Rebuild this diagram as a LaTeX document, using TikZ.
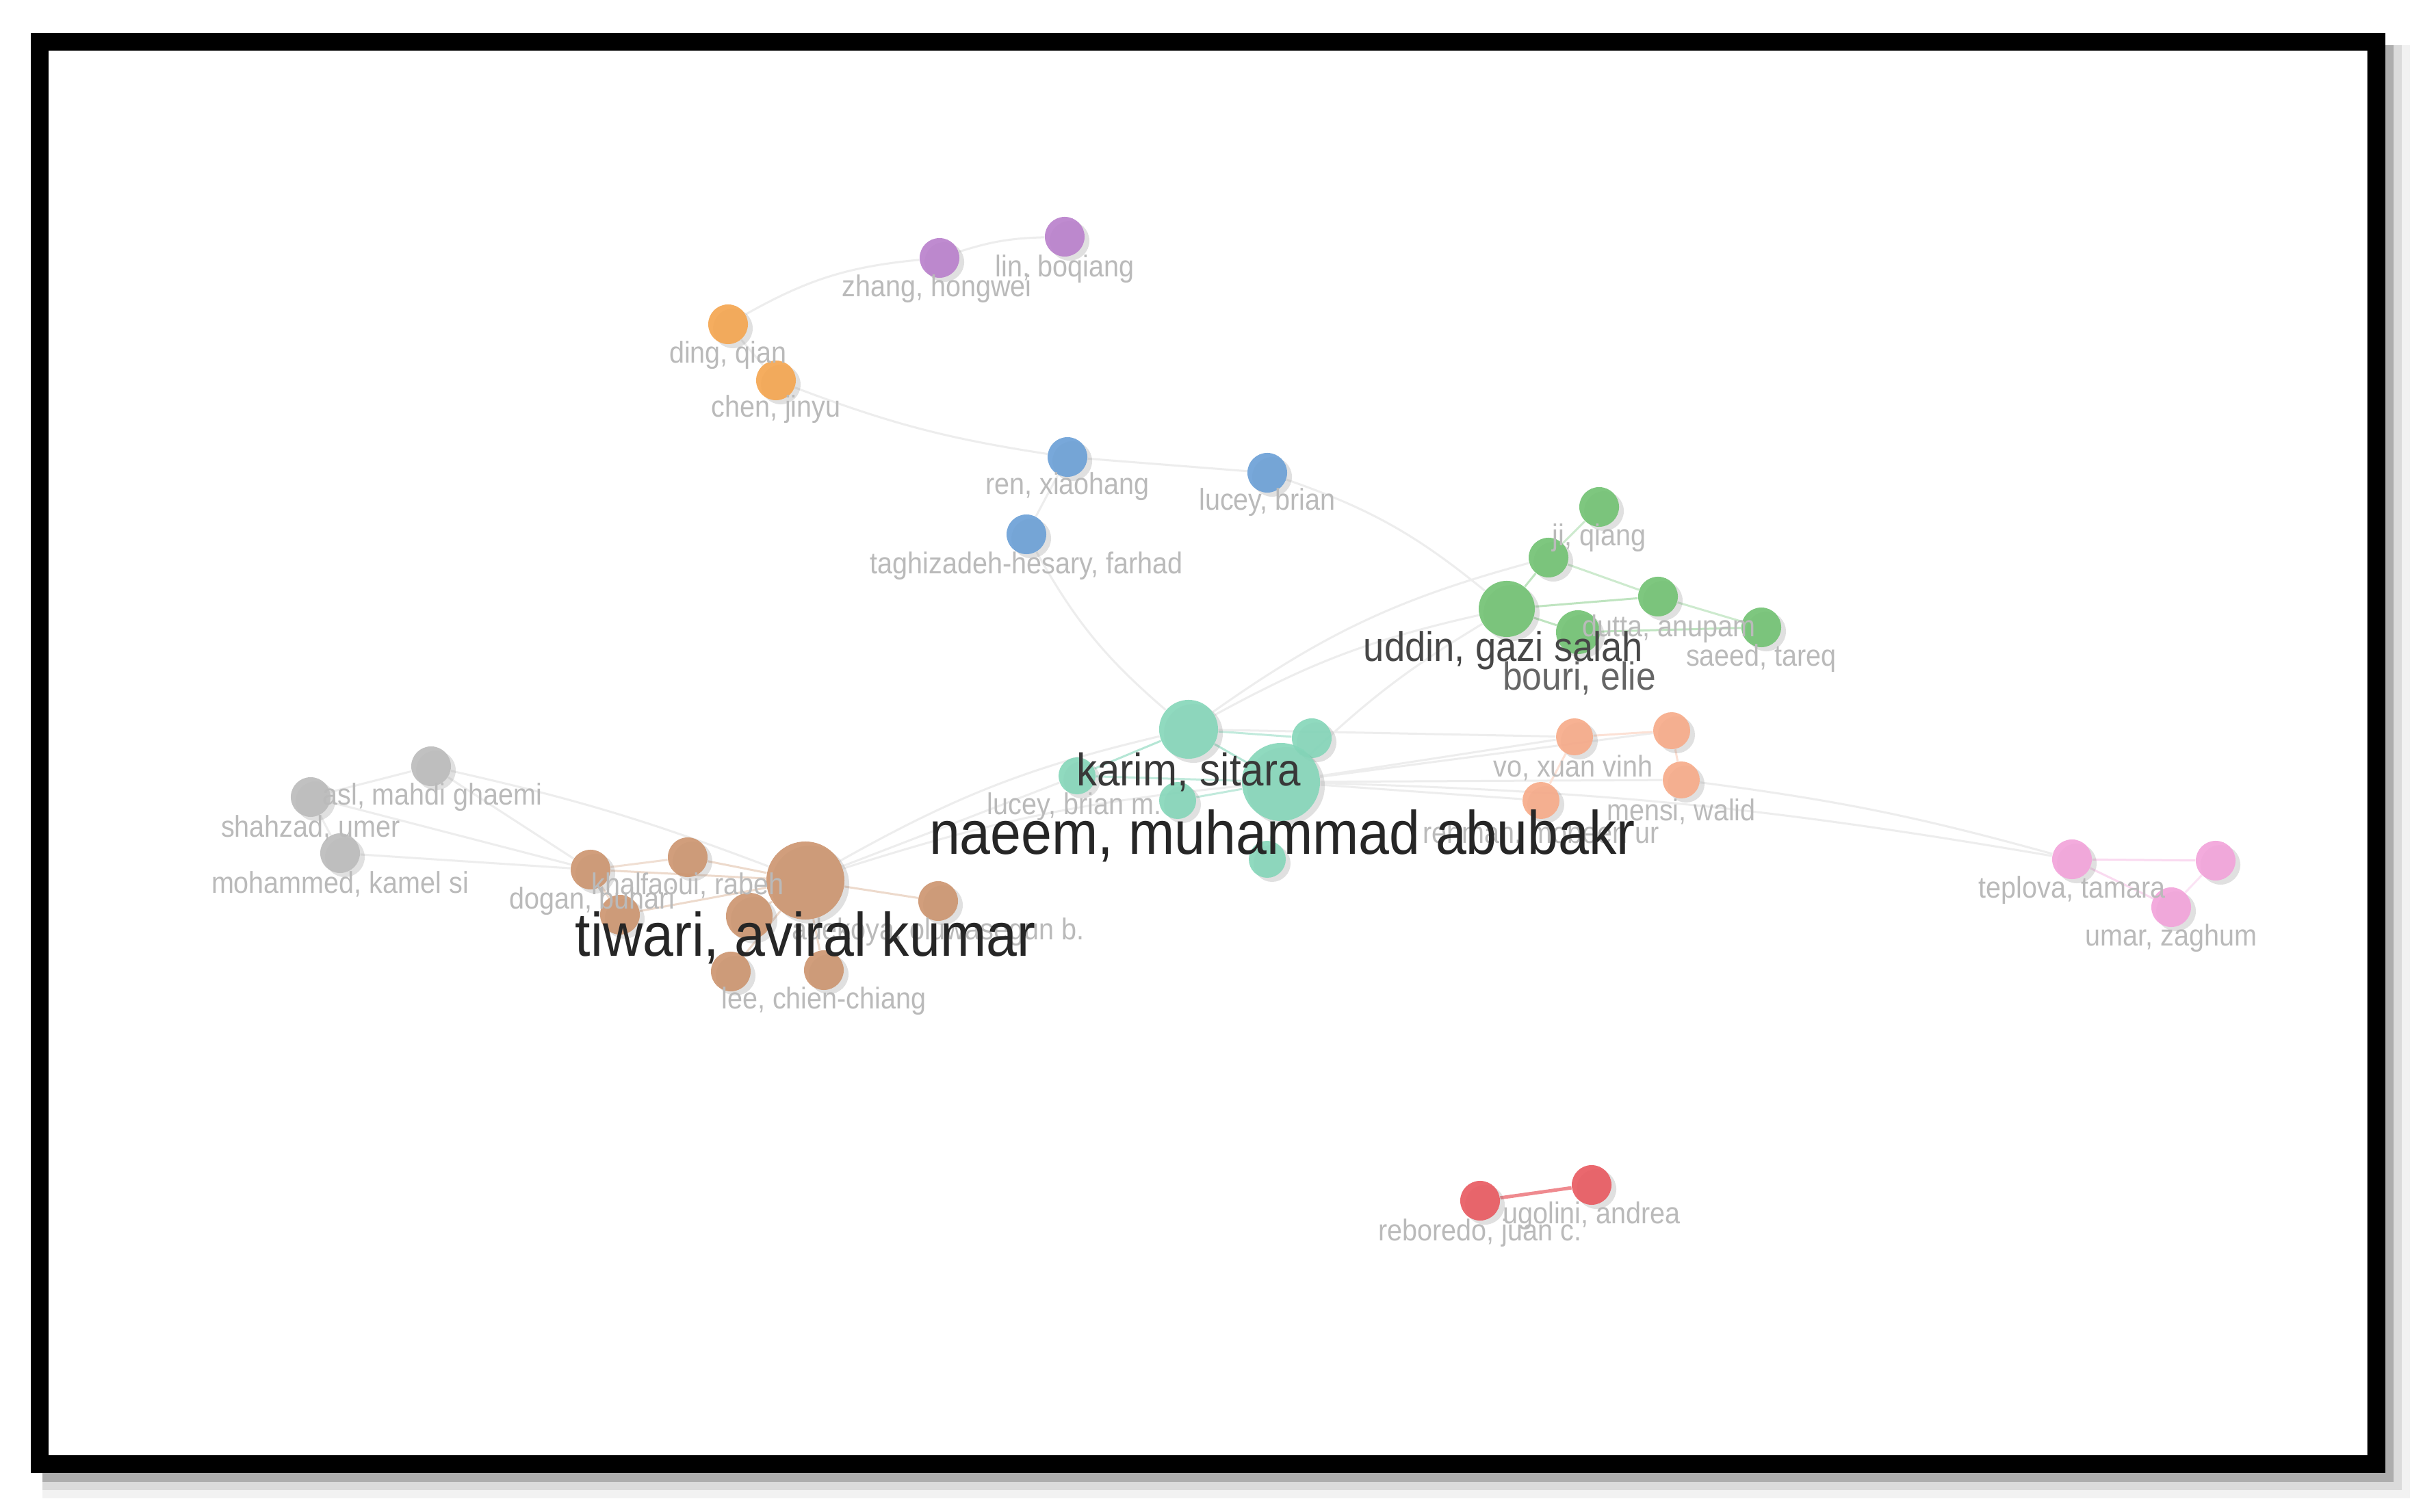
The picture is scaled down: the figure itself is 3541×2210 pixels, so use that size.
\documentclass[tikz,border=0pt]{standalone}
\usepackage{fontspec}
\setmainfont{Liberation Sans}
\newfontfamily\lab[FakeStretch=0.9]{Liberation Sans}
\usetikzlibrary{shadows}
\definecolor{cpurple}{HTML}{B97FCB}
\definecolor{corange}{HTML}{F5A54E}
\definecolor{cblue}{HTML}{6A9FD6}
\definecolor{cgreen}{HTML}{71C272}
\definecolor{cteal}{HTML}{84D6B9}
\definecolor{csalmon}{HTML}{F7AA88}
\definecolor{cpink}{HTML}{F2A2DA}
\definecolor{cred}{HTML}{E8585F}
\definecolor{cgray}{HTML}{BBBBBB}
\definecolor{cbrown}{HTML}{CC946E}
\pgfdeclarelayer{bg}
\pgfdeclarelayer{edges}
\pgfsetlayers{bg,edges,main}
\begin{document}
\begin{tikzpicture}[x=0.01cm,y=-0.01cm,
  nd/.style={circle,inner sep=0pt,fill opacity=0.9,
    drop shadow={shadow xshift=0.07cm,shadow yshift=-0.06cm,opacity=0.2,fill=black!60}},
  sm/.style={nd,minimum size=0.58cm},
  ed/.style={draw=black!7,line width=0.03cm},
  sl/.style={inner sep=0pt,text=black!27,font=\lab\fontsize{12.5}{14}\selectfont},
  bl/.style={inner sep=0pt,text=black!85,font=\lab\fontsize{25.5}{28}\selectfont}]
\useasboundingbox (0,0) rectangle (3541,2210);
\begin{pgfonlayer}{bg}
  \fill[black!5] (62,66) rectangle (3522,2190);
  \fill[black!14] (62,66) rectangle (3510,2178);
  \fill[black!32] (62,66) rectangle (3498,2166);
  \fill[white] (71,74) rectangle (3459,2127);
  \draw[black,line width=0.26cm] (58,61) rectangle (3472.5,2140);
\end{pgfonlayer}

% nodes
\node[sm,fill=cpurple] (zhang) at (1373,377) {};
\node[sm,fill=cpurple] (lin) at (1556,346) {};
\node[sm,fill=corange] (ding) at (1064,474) {};
\node[sm,fill=corange] (chen) at (1134,556) {};
\node[sm,fill=cblue] (ren) at (1560,668) {};
\node[sm,fill=cblue] (luceyb) at (1852,691) {};
\node[sm,fill=cblue] (tagh) at (1500,781) {};
\node[sm,fill=cgreen] (ji) at (2337,741) {};
\node[sm,fill=cgreen] (g2) at (2263,815) {};
\node[nd,fill=cgreen,minimum size=0.82cm] (uddin) at (2202,890) {};
\node[sm,fill=cgreen] (dutta) at (2423,872) {};
\node[nd,fill=cgreen,minimum size=0.64cm] (bouri) at (2306,924) {};
\node[sm,fill=cgreen] (saeed) at (2574,917) {};
\node[nd,fill=cteal,minimum size=0.86cm] (karim) at (1737,1066) {};
\node[sm,fill=cteal] (t3) at (1917,1079) {};
\node[sm,fill=cteal,minimum size=0.54cm] (luceybm) at (1574,1134) {};
\node[sm,fill=cteal,minimum size=0.54cm] (t5) at (1721,1170) {};
\node[sm,fill=cteal,minimum size=0.54cm] (t6) at (1852,1256) {};
\node[nd,fill=cteal,minimum size=1.14cm] (naeem) at (1872,1143) {};
\node[sm,fill=csalmon,minimum size=0.54cm] (vo) at (2301,1077) {};
\node[sm,fill=csalmon,minimum size=0.54cm] (s2) at (2443,1068) {};
\node[sm,fill=csalmon,minimum size=0.54cm] (mensi) at (2457,1140) {};
\node[sm,fill=csalmon,minimum size=0.54cm] (rehman) at (2252,1170) {};
\node[sm,fill=cpink] (teplova) at (3028,1256) {};
\node[sm,fill=cpink] (p2) at (3238,1258) {};
\node[sm,fill=cpink] (umar) at (3173,1326) {};
\node[sm,fill=cred] (reboredo) at (2163,1755) {};
\node[sm,fill=cred] (ugolini) at (2326,1732) {};
\node[sm,fill=cgray] (asl) at (630,1120) {};
\node[sm,fill=cgray] (shahzad) at (454,1165) {};
\node[sm,fill=cgray] (mohammed) at (497,1247) {};
\node[sm,fill=cbrown] (b2) at (863,1271) {};
\node[sm,fill=cbrown] (khalfaoui) at (1005,1253) {};
\node[sm,fill=cbrown] (dogan) at (906,1337) {};
\node[nd,fill=cbrown,minimum size=0.68cm] (b5) at (1095,1339) {};
\node[sm,fill=cbrown] (adekoya) at (1371,1317) {};
\node[sm,fill=cbrown] (b7) at (1068,1420) {};
\node[sm,fill=cbrown] (lee) at (1204,1418) {};
\node[nd,fill=cbrown,minimum size=1.14cm] (tiwari) at (1177,1287) {};

% edges
\begin{pgfonlayer}{edges}
  \draw[ed] (zhang) to[bend left=8] (lin);
  \draw[ed] (ding) to[bend left=12] (zhang);
  \draw[ed] (ding) -- (chen);
  \draw[ed] (chen) to[bend right=6] (ren);
  \draw[ed] (ren) -- (luceyb);
  \draw[ed] (ren) -- (tagh);
  \draw[ed] (luceyb) to[bend left=10] (uddin);
  \draw[ed] (tagh) to[bend right=10] (karim);
  \draw[ed] (uddin) to[bend right=8] (karim);
  \draw[ed] (uddin) to[bend right=6] (naeem);
  \draw[ed] (g2) to[bend right=10] (karim);
  \draw[ed,draw=cgreen!45] (uddin) -- (g2);
  \draw[ed,draw=cgreen!45] (uddin) -- (dutta);
  \draw[ed,draw=cgreen!35] (g2) -- (dutta);
  \draw[ed,draw=cgreen!35] (g2) -- (ji);
  \draw[ed,draw=cgreen!45] (uddin) -- (bouri);
  \draw[ed,draw=cgreen!45] (bouri) -- (saeed);
  \draw[ed,draw=cgreen!35] (dutta) -- (saeed);
  \draw[ed,draw=cteal!60] (naeem) -- (karim);
  \draw[ed,draw=cteal!50] (naeem) -- (t3);
  \draw[ed,draw=cteal!50] (karim) -- (t3);
  \draw[ed,draw=cteal!60] (karim) -- (luceybm);
  \draw[ed,draw=cteal!50] (naeem) -- (luceybm);
  \draw[ed,draw=cteal!50] (naeem) -- (t5);
  \draw[ed,draw=cteal!50] (naeem) -- (t6);
  \draw[ed] (karim) -- (vo);
  \draw[ed] (naeem) -- (vo);
  \draw[ed] (naeem) -- (s2);
  \draw[ed] (naeem) -- (mensi);
  \draw[ed] (naeem) -- (rehman);
  \draw[ed,draw=csalmon!35] (vo) -- (s2);
  \draw[ed,draw=csalmon!35] (s2) -- (mensi);
  \draw[ed,draw=csalmon!35] (vo) -- (rehman);
  \draw[ed] (naeem) to[bend left=4] (teplova);
  \draw[ed] (mensi) to[bend left=4] (teplova);
  \draw[ed,draw=cpink!40] (teplova) -- (p2);
  \draw[ed,draw=cpink!40] (teplova) -- (umar);
  \draw[ed,draw=cpink!30] (umar) -- (p2);
  \draw[ed] (tiwari) to[bend left=6] (naeem);
  \draw[ed] (tiwari) to[bend left=8] (karim);
  \draw[ed] (tiwari) -- (luceybm);
  \draw[ed,draw=cbrown!35] (tiwari) -- (b2);
  \draw[ed,draw=cbrown!35] (tiwari) -- (khalfaoui);
  \draw[ed,draw=cbrown!35] (tiwari) -- (dogan);
  \draw[ed,draw=cbrown!35] (tiwari) -- (b5);
  \draw[ed,draw=cbrown!35] (tiwari) -- (adekoya);
  \draw[ed,draw=cbrown!35] (tiwari) -- (b7);
  \draw[ed,draw=cbrown!35] (tiwari) -- (lee);
  \draw[ed,draw=cbrown!30] (b2) -- (khalfaoui);
  \draw[ed,draw=cbrown!30] (b2) -- (dogan);
  \draw[ed] (b2) -- (asl);
  \draw[ed] (b2) -- (shahzad);
  \draw[ed] (b2) -- (mohammed);
  \draw[ed] (asl) to[bend left=4] (tiwari);
  \draw[ed] (shahzad) -- (asl);
  \draw[ed] (shahzad) -- (mohammed);
  \draw[draw=cred!70,line width=0.05cm] (reboredo) -- (ugolini);
\end{pgfonlayer}

% labels
\node[sl] (l-zhang) at (1369,422) {zhang, hongwei};
\node[sl] (l-lin) at (1556,393) {lin, boqiang};
\node[sl] (l-ding) at (1064,519) {ding, qian};
\node[sl] (l-chen) at (1134,598) {chen, jinyu};
\node[sl] (l-ren) at (1560,711) {ren, xiaohang};
\node[sl] (l-luceyb) at (1852,734) {lucey, brian};
\node[sl] (l-tagh) at (1500,827) {taghizadeh-hesary, farhad};
\node[sl] (l-ji) at (2337,786) {ji, qiang};
\node[sl] (l-dutta) at (2439,919) {dutta, anupam};
\node[sl] (l-saeed) at (2574,962) {saeed, tareq};
\node[inner sep=0pt,text=black!72,font=\lab\fontsize{17.2}{19}\selectfont] (l-uddin) at (2197,951) {uddin, gazi salah};
\node[inner sep=0pt,text=black!60,font=\lab\fontsize{16.3}{18}\selectfont] (l-bouri) at (2308,991) {bouri, elie};
\node[sl] (l-vo) at (2299,1122) {vo, xuan vinh};
\node[sl] (l-mensi) at (2457,1186) {mensi, walid};
\node[sl] (l-rehman) at (2252,1219) {rehman, mobeen ur};
\node[sl] (l-luceybm) at (1570,1179) {lucey, brian m.};
\node[inner sep=0pt,text=black!78,font=\lab\fontsize{19}{21}\selectfont] (l-karim) at (1737,1129) {karim, sitara};
\node[bl] (l-naeem) at (1874,1222) {naeem, muhammad abubakr};
\node[sl] (l-teplova) at (3028,1301) {teplova, tamara};
\node[sl] (l-umar) at (3173,1371) {umar, zaghum};
\node[sl] (l-reboredo) at (2163,1802) {reboredo, juan c.};
\node[sl] (l-ugolini) at (2326,1777) {ugolini, andrea};
\node[sl] (l-asl) at (632,1165) {asl, mahdi ghaemi};
\node[sl] (l-shahzad) at (454,1210) {shahzad, umer};
\node[sl] (l-mohammed) at (497,1292) {mohammed, kamel si};
\node[sl] (l-khalfaoui) at (1005,1294) {khalfaoui, rabeh};
\node[sl] (l-dogan) at (865,1317) {dogan, buhari};
\node[sl] (l-adekoya) at (1371,1362) {adekoya, oluwasegun b.};
\node[sl] (l-lee) at (1204,1463) {lee, chien-chiang};
\node[bl] (l-tiwari) at (1177,1371) {tiwari, aviral kumar};
\end{tikzpicture}
\end{document}
